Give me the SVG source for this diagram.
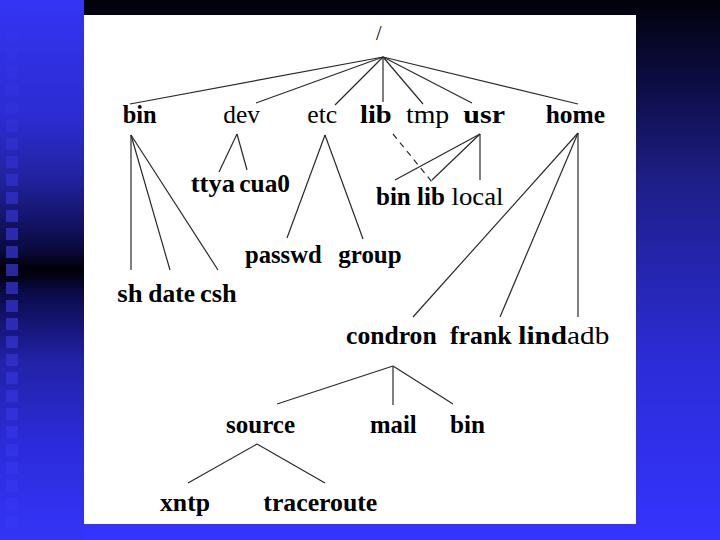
<svg xmlns="http://www.w3.org/2000/svg" width="720" height="540" viewBox="0 0 720 540">
<defs>
<linearGradient id="bg" x1="0" y1="0" x2="0" y2="540" gradientUnits="userSpaceOnUse">
<stop offset="0" stop-color="#02020a"/>
<stop offset="0.15" stop-color="#0c0c44"/>
<stop offset="0.33" stop-color="#1e1e86"/>
<stop offset="0.67" stop-color="#2c2cd8"/>
<stop offset="1" stop-color="#3434ff"/>
</linearGradient>
<linearGradient id="strip" x1="0" y1="0" x2="0" y2="540" gradientUnits="userSpaceOnUse">
<stop offset="0" stop-color="#3434f4"/>
<stop offset="0.22" stop-color="#2c2cd0"/>
<stop offset="0.33" stop-color="#2222a0"/>
<stop offset="0.46" stop-color="#0a0a40"/>
<stop offset="0.5" stop-color="#000004"/>
<stop offset="0.54" stop-color="#0a0a48"/>
<stop offset="0.67" stop-color="#2222a8"/>
<stop offset="0.83" stop-color="#2c2cdc"/>
<stop offset="1" stop-color="#3434f8"/>
</linearGradient>
<linearGradient id="sq" x1="0" y1="0" x2="0" y2="540" gradientUnits="userSpaceOnUse">
<stop offset="0" stop-color="#3434f4"/>
<stop offset="0.2" stop-color="#3030d8"/>
<stop offset="0.5" stop-color="#2828a0"/>
<stop offset="0.8" stop-color="#3232e2"/>
<stop offset="1" stop-color="#3636f8"/>
</linearGradient>
<style>
text{font-family:"Liberation Serif","Times New Roman",serif;font-size:25px;fill:#000;}
.b{font-weight:bold;}
.r{font-weight:normal;}
#connectors line{stroke:#2a2a2a;stroke-width:1.2;fill:none;}
#connectors .dash{stroke-dasharray:6 5;}
</style>
</defs>
<rect x="0" y="0" width="720" height="540" fill="url(#bg)"/>
<rect x="0" y="0" width="84" height="540" fill="url(#strip)"/>
<g fill="url(#sq)">
<rect x="6" y="12" width="12" height="12"/><rect x="6" y="30" width="12" height="12"/><rect x="6" y="48" width="12" height="12"/><rect x="6" y="66" width="12" height="12"/><rect x="6" y="84" width="12" height="12"/><rect x="6" y="102" width="12" height="12"/><rect x="6" y="120" width="12" height="12"/><rect x="6" y="138" width="12" height="12"/><rect x="6" y="156" width="12" height="12"/><rect x="6" y="174" width="12" height="12"/><rect x="6" y="192" width="12" height="12"/><rect x="6" y="210" width="12" height="12"/><rect x="6" y="228" width="12" height="12"/><rect x="6" y="246" width="12" height="12"/><rect x="6" y="264" width="12" height="12"/><rect x="6" y="282" width="12" height="12"/><rect x="6" y="300" width="12" height="12"/><rect x="6" y="318" width="12" height="12"/><rect x="6" y="336" width="12" height="12"/><rect x="6" y="354" width="12" height="12"/><rect x="6" y="372" width="12" height="12"/><rect x="6" y="390" width="12" height="12"/><rect x="6" y="408" width="12" height="12"/><rect x="6" y="426" width="12" height="12"/><rect x="6" y="444" width="12" height="12"/><rect x="6" y="462" width="12" height="12"/><rect x="6" y="480" width="12" height="12"/><rect x="6" y="498" width="12" height="12"/><rect x="6" y="516" width="12" height="12"/>
</g>
<rect x="84" y="15" width="552" height="509" fill="#ffffff"/>

<g id="connectors">
<line x1="383" y1="57" x2="130" y2="104"/>
<line x1="383" y1="57" x2="256" y2="103"/>
<line x1="383" y1="57" x2="335" y2="105"/>
<line x1="383" y1="57" x2="383" y2="102"/>
<line x1="383" y1="57" x2="423" y2="104"/>
<line x1="383" y1="57" x2="472" y2="103"/>
<line x1="383" y1="57" x2="578" y2="104"/>
<line x1="131" y1="135" x2="131" y2="270"/>
<line x1="131" y1="135" x2="170" y2="270"/>
<line x1="131" y1="135" x2="218" y2="270"/>
<line x1="237" y1="134" x2="219" y2="172"/>
<line x1="237" y1="134" x2="247" y2="170"/>
<line x1="325" y1="135" x2="287" y2="238"/>
<line x1="325" y1="135" x2="363" y2="239"/>
<line x1="480" y1="134" x2="395" y2="180"/>
<line x1="480" y1="134" x2="432" y2="180"/>
<line x1="480" y1="134" x2="480" y2="180"/>
<line class="dash" x1="393" y1="134" x2="432" y2="182"/>
<line x1="578" y1="133" x2="413" y2="317"/>
<line x1="578" y1="133" x2="500" y2="317"/>
<line x1="578" y1="133" x2="578" y2="317"/>
<line x1="393" y1="366" x2="277" y2="404"/>
<line x1="393" y1="366" x2="393" y2="405"/>
<line x1="393" y1="366" x2="453" y2="404"/>
<line x1="257" y1="444" x2="188" y2="483"/>
<line x1="257" y1="444" x2="325" y2="483"/>
</g>

<g id="root"><text class="r" x="376" y="40" style="font-size:20px">/</text></g>
<g id="bin"><text class="b" x="122.7" y="123.3" textLength="34" lengthAdjust="spacingAndGlyphs">bin</text></g>
<g id="dev"><text class="r" x="223.3" y="123.3" textLength="36.7" lengthAdjust="spacingAndGlyphs">dev</text></g>
<g id="etc"><text class="r" x="307.3" y="123.3" textLength="30" lengthAdjust="spacingAndGlyphs">etc</text></g>
<g id="lib"><text class="b" x="360" y="123.3" textLength="31.7" lengthAdjust="spacingAndGlyphs">lib</text></g>
<g id="tmp"><text class="r" x="406" y="123.3" textLength="43.3" lengthAdjust="spacingAndGlyphs">tmp</text></g>
<g id="usr"><text class="b" x="463.3" y="123.3" textLength="41.7" lengthAdjust="spacingAndGlyphs">usr</text></g>
<g id="home"><text class="b" x="545.7" y="123.3" textLength="59.3" lengthAdjust="spacingAndGlyphs">home</text></g>

<g id="ttya"><text class="b" x="190.7" y="191.7" textLength="44.3" lengthAdjust="spacingAndGlyphs">ttya</text></g>
<g id="cua0"><text class="b" x="239.3" y="191.7" textLength="50.7" lengthAdjust="spacingAndGlyphs">cua0</text></g>

<g id="usr-bin"><text class="b" x="376" y="205">bin</text></g>
<g id="usr-lib"><text class="b" x="417" y="205">lib</text></g>
<g id="usr-local"><text class="r" x="451.5" y="205" textLength="52" lengthAdjust="spacingAndGlyphs">local</text></g>

<g id="passwd"><text class="b" x="245" y="263.3" textLength="76.7" lengthAdjust="spacingAndGlyphs">passwd</text></g>
<g id="group"><text class="b" x="338.3" y="263.3" textLength="63.3" lengthAdjust="spacingAndGlyphs">group</text></g>

<g id="sh"><text class="b" x="117.3" y="301.5" textLength="25.3" lengthAdjust="spacingAndGlyphs">sh</text></g>
<g id="date"><text class="b" x="148.3" y="301.5" textLength="46.7" lengthAdjust="spacingAndGlyphs">date</text></g>
<g id="csh"><text class="b" x="200" y="301.5" textLength="36.7" lengthAdjust="spacingAndGlyphs">csh</text></g>

<g id="condron"><text class="b" x="346" y="344" textLength="90.7" lengthAdjust="spacingAndGlyphs">condron</text></g>
<g id="frank"><text class="b" x="450" y="344" textLength="61.7" lengthAdjust="spacingAndGlyphs">frank</text></g>
<g id="lindadb"><text class="b" x="518.3" y="344" textLength="91" lengthAdjust="spacingAndGlyphs">lind<tspan class="r">adb</tspan></text></g>

<g id="source"><text class="b" x="226" y="433.3" textLength="69" lengthAdjust="spacingAndGlyphs">source</text></g>
<g id="mail"><text class="b" x="370" y="433.3" textLength="46.7" lengthAdjust="spacingAndGlyphs">mail</text></g>
<g id="condron-bin"><text class="b" x="450" y="433.3" textLength="35" lengthAdjust="spacingAndGlyphs">bin</text></g>

<g id="xntp"><text class="b" x="160" y="510.5" textLength="50" lengthAdjust="spacingAndGlyphs">xntp</text></g>
<g id="traceroute"><text class="b" x="263.3" y="510.5" textLength="114" lengthAdjust="spacingAndGlyphs">traceroute</text></g>
</svg>
